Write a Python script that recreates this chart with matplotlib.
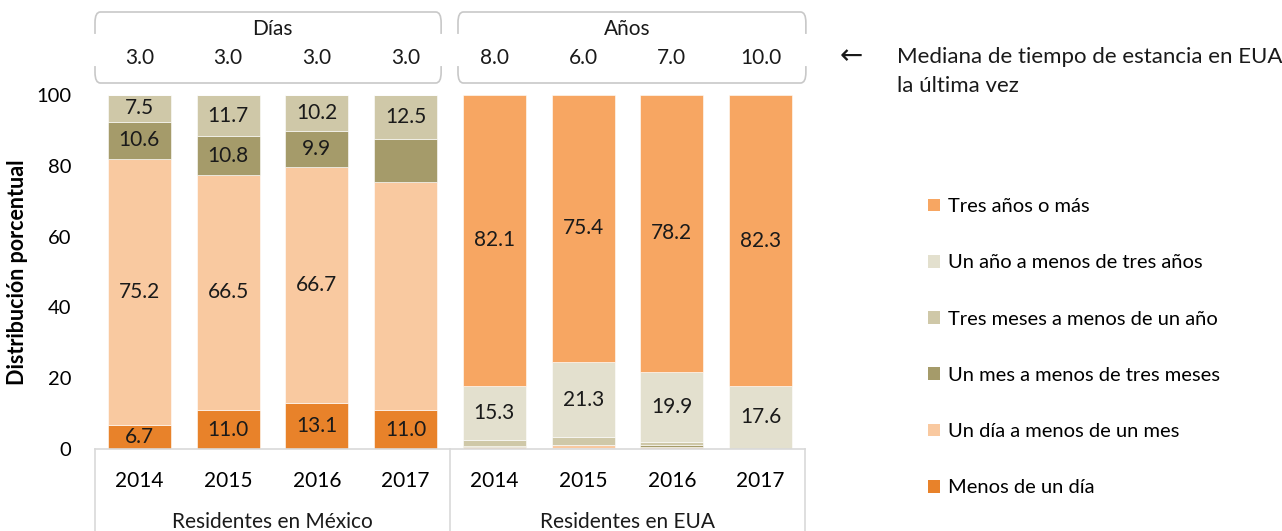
import matplotlib.pyplot as plt
import numpy as np
from matplotlib.patches import FancyBboxPatch, Patch

plt.rcParams['font.family'] = ['Lato', 'DejaVu Sans']

years = ['2014', '2015', '2016', '2017']
groups = ['Residentes en México', 'Residentes en EUA']
categories = ['Menos de un día', 'Un día a menos de un mes',
              'Un mes a menos de tres meses', 'Tres meses a menos de un año',
              'Un año a menos de tres años', 'Tres años o más']
colors = ['#E8822A', '#F9C9A0', '#A59B6A', '#CFC8A8', '#E3E0CE', '#F7A662']

# percent distribution, one list per category (bottom to top of the stack)
mex_values = [
    [6.7, 11.0, 13.1, 11.0],
    [75.2, 66.5, 66.7, 64.3],
    [10.6, 10.8, 9.9, 12.2],
    [7.5, 11.7, 10.2, 12.5],
    [0.0, 0.0, 0.0, 0.0],
    [0.0, 0.0, 0.0, 0.0],
]
eua_values = [
    [0.1, 0.2, 0.1, 0.0],
    [0.5, 0.8, 0.6, 0.0],
    [0.2, 0.1, 0.3, 0.0],
    [1.8, 2.2, 0.9, 0.1],
    [15.3, 21.3, 19.9, 17.6],
    [82.1, 75.4, 78.2, 82.3],
]
# segments left without a number: (category index, bar index)
unlabeled = {(1, 3), (2, 3)}

# median time of stay, shown above the bars
median_days = [3.0, 3.0, 3.0, 3.0]
median_years = [8.0, 6.0, 7.0, 10.0]

FS = 15
W, H = 1282, 531
fig = plt.figure(figsize=(W / 100, H / 100), dpi=100)
ax = fig.add_axes([95 / W, 1 - 449 / H, (805 - 95) / W, (449 - 95) / H])

x = np.arange(len(years) * len(groups))
bottom = np.zeros(len(x))
for i, (cat, col) in enumerate(zip(categories, colors)):
    vals = np.array(mex_values[i] + eua_values[i])
    ax.bar(x, vals, 0.71, bottom=bottom, color=col, label=cat,
           edgecolor='white', linewidth=0.4)
    for j, v in enumerate(vals):
        if v >= 5 and (i, j) not in unlabeled:
            ax.text(x[j], bottom[j] + v / 2, f'{v:.1f}', ha='center',
                    va='center', fontsize=FS, color='#1a1a1a')
    bottom += vals

ax.set_xlim(-0.5, 7.5)
ax.set_ylim(0, 100)
for s in ax.spines.values():
    s.set_visible(False)
ax.set_yticks(range(0, 101, 20))
ax.tick_params(axis='y', length=0, pad=17, labelsize=FS - 0.5)
ax.set_xticks(x)
ax.set_xticklabels(years * 2)
ax.tick_params(axis='x', length=0, pad=16, labelsize=FS)
ax.set_ylabel('Distribución porcentual', fontsize=15.5, fontweight='bold')
ax.yaxis.set_label_coords(-67 / 710, 0.5)

# category box below the axis
grid_col = '#D9D9D9'
xt = ax.get_xaxis_transform()
ax.plot([-0.5, 7.5], [0, 0], color=grid_col, lw=1.2, transform=xt, clip_on=False)
for xv in [-0.5, 3.5, 7.5]:
    ax.plot([xv, xv], [0, -0.25], color=grid_col, lw=1.2, transform=xt,
            clip_on=False)
for k, g in enumerate(groups):
    ax.text(1.5 + 4 * k, -0.205, g, transform=xt, ha='center', va='center',
            fontsize=FS, color='#1a1a1a')

# header boxes with the medians
header_titles = ['Días', 'Años']
header_values = [median_days, median_years]
box_spans = [(-0.5, 3.4), (3.59, 7.51)]
y_lo, y_hi = (449 - 83) / 354, (449 - 12) / 354
for k in range(2):
    x0, x1 = box_spans[k]
    box = FancyBboxPatch((x0, y_lo), x1 - x0, y_hi - y_lo,
                         boxstyle='round,pad=0,rounding_size=0.06',
                         transform=xt, fill=False, edgecolor='#C8C8C8',
                         lw=1.2, clip_on=False, mutation_aspect=0.5)
    ax.add_patch(box)
    # open the sides where the number row sits
    for xv in (x0, x1):
        ax.plot([xv, xv], [(449 - 36) / 354, (449 - 64) / 354], color='white',
                lw=3, transform=xt, clip_on=False)
    ax.text(1.5 + 4 * k, (449 - 29) / 354, header_titles[k], transform=xt,
            ha='center', va='center', fontsize=FS, color='#1a1a1a')
    for j, v in enumerate(header_values[k]):
        ax.text(4 * k + j, (449 - 58) / 354, f'{v:.1f}', transform=xt,
                ha='center', va='center', fontsize=FS, color='#1a1a1a')

fig.text(851 / W, 1 - 56 / H, '←', ha='center', va='center', fontsize=20,
         family='DejaVu Sans', color='#1a1a1a')
fig.text(897 / W, 1 - 57 / H, 'Mediana de tiempo de estancia en EUA',
         ha='left', va='center', fontsize=16, color='#1a1a1a')
fig.text(897 / W, 1 - 86 / H, 'la última vez', ha='left', va='center',
         fontsize=16, color='#1a1a1a')

handles = [Patch(facecolor=c, label=l) for c, l in zip(colors, categories)][::-1]
fig.legend(handles=handles, loc='upper left',
           bbox_to_anchor=(920 / W, 1 - 190 / H), frameon=False, fontsize=14.5,
           handlelength=0.6, handleheight=0.6, handletextpad=0.4,
           labelspacing=1.95, borderaxespad=0)

fig.savefig('out.png', dpi=100, facecolor='white')
